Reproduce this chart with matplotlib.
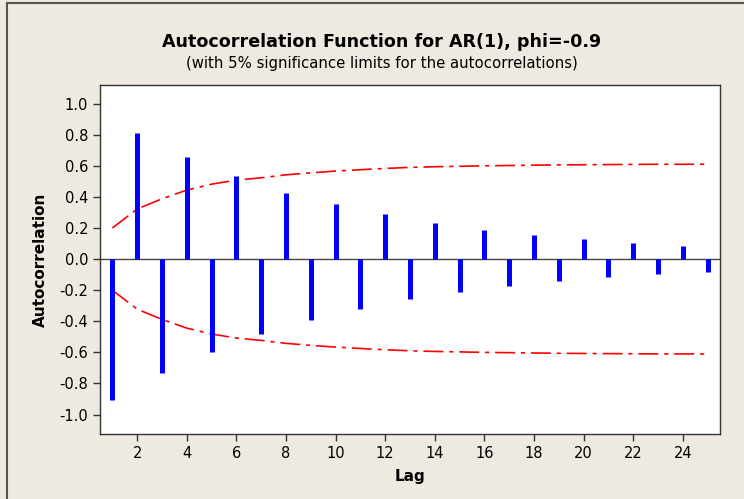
import numpy as np
import matplotlib.pyplot as plt
from matplotlib.lines import Line2D

plt.rcParams['axes.unicode_minus'] = False
plt.rcParams['font.family'] = 'DejaVu Sans'

# ACF values
lags = np.arange(1, 26)
acf = [-0.907, 0.812, -0.733, 0.654, -0.598, 0.534, -0.482, 0.426, -0.390, 0.354,
       -0.324, 0.287, -0.257, 0.229, -0.214, 0.186, -0.172, 0.152, -0.139, 0.129,
       -0.114, 0.103, -0.098, 0.086, -0.082]
# upper 5% significance limit (lower is the mirror)
limit = [0.200, 0.322, 0.388, 0.444, 0.482, 0.508, 0.523, 0.542, 0.555, 0.566,
         0.575, 0.583, 0.590, 0.594, 0.597, 0.600, 0.602, 0.604, 0.606, 0.607,
         0.608, 0.609, 0.610, 0.610, 0.610]
xticks = list(range(2, 25, 2))
yticks = [-1.0, -0.8, -0.6, -0.4, -0.2, 0.0, 0.2, 0.4, 0.6, 0.8, 1.0]
ytick_labels = ['-1.0', '-0.8', '-0.6', '-0.4', '-0.2', '0.0',
                '0.2', '0.4', '0.6', '0.8', '1.0']

bg = '#EEEAE1'
fig = plt.figure(figsize=(7.44, 4.99), dpi=100, facecolor=bg)
ax = fig.add_axes([0.1344, 0.1303, 0.8333, 0.6994])
ax.set_facecolor('white')

ax.axhline(0, color='#444444', lw=1, zorder=1)
ax.vlines(lags, 0, acf, color='#0000FF', lw=3.6, zorder=3)

lim = np.array(limit)
ax.plot(lags, lim, color='red', lw=1.2, dashes=(12, 3.5, 2.5, 3.5), zorder=2)
ax.plot(lags, -lim, color='red', lw=1.2, dashes=(12, 3.5, 2.5, 3.5), zorder=2)

ax.set_xlim(0.5, 25.5)
ax.set_ylim(-1.125, 1.12)
ax.set_xticks(xticks)
ax.set_yticks(yticks)
ax.set_yticklabels(ytick_labels)
ax.tick_params(direction='out', length=5, width=1, colors='#333333',
               labelsize=10.5, labelcolor='black')
for s in ax.spines.values():
    s.set_color('#333333')
    s.set_linewidth(1)

ax.set_xlabel('Lag', fontsize=11, fontweight='bold', labelpad=6)
ax.set_ylabel('Autocorrelation', fontsize=11, fontweight='bold', labelpad=8)

fig.text(0.513, 0.916, 'Autocorrelation Function for AR(1), phi=-0.9',
         ha='center', va='center', fontsize=12.6, fontweight='bold')
fig.text(0.513, 0.872, '(with 5% significance limits for the autocorrelations)',
         ha='center', va='center', fontsize=10.7)

# window frame on top and left
fig.add_artist(Line2D([0.0094, 0.0094], [0, 0.993], transform=fig.transFigure,
                      color='#555555', lw=1.5))
fig.add_artist(Line2D([0.0094, 1], [0.993, 0.993], transform=fig.transFigure,
                      color='#555555', lw=1.5))

fig.savefig('out.png', dpi=100, facecolor=bg)
